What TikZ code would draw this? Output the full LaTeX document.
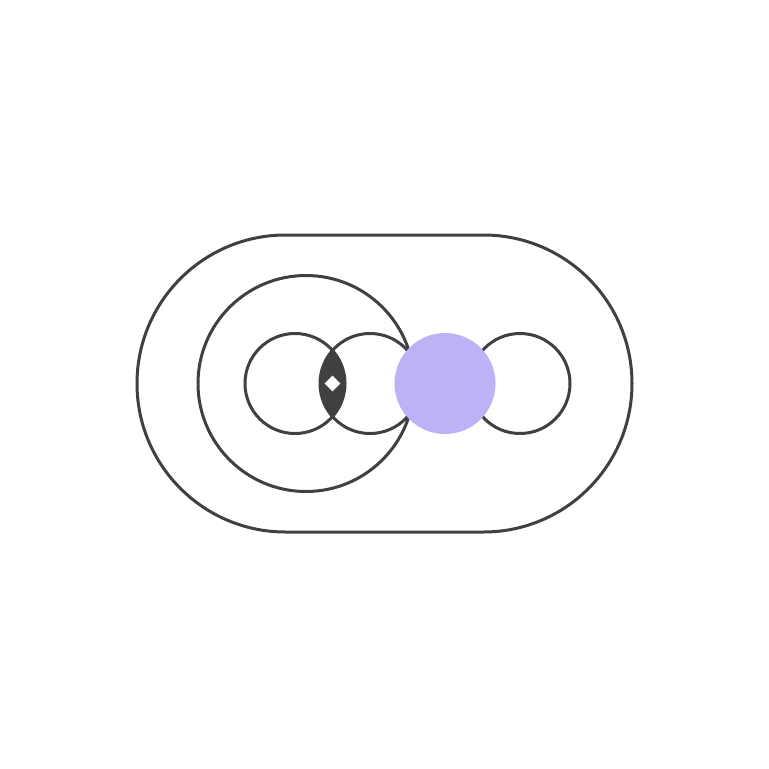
\documentclass[tikz,border=0pt]{standalone}
\usetikzlibrary{shapes.geometric}
\begin{document}
\begin{tikzpicture}[x=1pt,y=-1pt,
  ink/.style={draw=inkc,line width=3pt},
  ring/.style={circle,ink,inner sep=0pt,minimum size=100pt}]
\definecolor{inkc}{RGB}{64,64,64}
\definecolor{lilac}{RGB}{188,178,245}
\useasboundingbox[fill=white] (0,0) rectangle (769,769);
% outer stadium
\draw[ink,rounded corners=148.5pt] (137,235) rectangle (632,532);
% inner large circle
\node[circle,ink,inner sep=0pt,minimum size=216pt] (big) at (306,383.5) {};
% small circles
\node[ring] (c1) at (295,383.5) {};
\node[ring] (c2) at (370,383.5) {};
\node[ring] (c4) at (520,383.5) {};
% lens intersection
\begin{scope}
  \clip (295,383.5) circle (50pt);
  \fill[inkc] (370,383.5) circle (50pt);
\end{scope}
\node[fill=white,diamond,inner sep=0pt,minimum size=16pt,shape aspect=1] (dia) at (332.5,383.5) {};
% filled lilac circle
\node[circle,fill=lilac,inner sep=0pt,minimum size=101pt] (c3) at (445,383.5) {};
\end{tikzpicture}
\end{document}
